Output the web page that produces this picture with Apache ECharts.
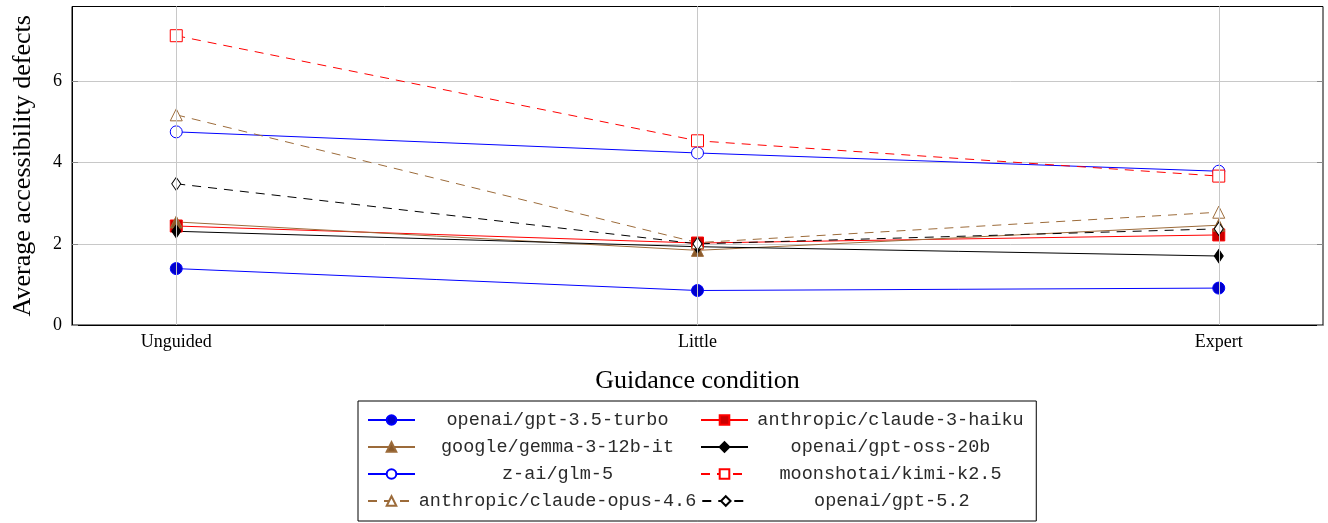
<!DOCTYPE html>
<html>
<head>
<meta charset="utf-8">
<script src="https://cdn.jsdelivr.net/npm/echarts@6/dist/echarts.min.js"></script>
<style>
  html, body { margin: 0; padding: 0; background: #fff; }
  #chart { width: 1328px; height: 523px; }
</style>
</head>
<body>
<div id="chart"></div>
<script>
// guidance conditions on the x axis
const conditions = ['Unguided', 'Little', 'Expert'];
const yTicks = [0, 2, 4, 6];

// average accessibility defects per model
const gpt35Turbo = [1.39, 0.85, 0.91];
const claude3Haiku = [2.44, 2.02, 2.22];
const gemma312b = [2.54, 1.84, 2.46];
const gptOss20b = [2.31, 1.93, 1.70];
const glm5 = [4.76, 4.24, 3.79];
const kimiK25 = [7.13, 4.54, 3.67];
const claudeOpus46 = [5.18, 2.03, 2.78];
const gpt52 = [3.48, 2.00, 2.37];

const serif = '"Liberation Serif", "DejaVu Serif", serif';
const mono = '"Liberation Mono", "DejaVu Sans Mono", monospace';
const condIdx = conditions.map((c, i) => i);

// name, values, line colour, mark fill, symbol, size, dashed
const models = [
  ['openai/gpt-3.5-turbo', gpt35Turbo, '#0000ff', '#0000cc', 'circle', 12, false],
  ['anthropic/claude-3-haiku', claude3Haiku, '#ff0000', '#cc0000', 'rect', 12, false],
  ['google/gemma-3-12b-it', gemma312b, '#9c6b3a', '#8a5a2b', 'triangle', 12, false],
  ['openai/gpt-oss-20b', gptOss20b, '#000000', '#000000', 'diamond', [9, 13], false],
  ['z-ai/glm-5', glm5, '#0000ff', '#ffffff', 'circle', 12, false],
  ['moonshotai/kimi-k2.5', kimiK25, '#ff0000', '#ffffff', 'rect', 12, true],
  ['anthropic/claude-opus-4.6', claudeOpus46, '#9c6b3a', '#ffffff', 'triangle', 12, true],
  ['openai/gpt-5.2', gpt52, '#000000', '#ffffff', 'diamond', [9, 13], true]
];

const series = models.map(([name, vals, line, fill, sym, size, dashed]) => ({
  name: name,
  type: 'line',
  data: vals.map((v, i) => [i, v]),
  symbol: sym,
  symbolSize: size,
  showAllSymbol: true,
  lineStyle: { color: line, width: 1, type: dashed ? [9, 7] : 'solid' },
  itemStyle: { color: fill, borderColor: line, borderWidth: 1 },
  emphasis: { disabled: true },
  animation: false
}));

// vertical grid lines at each condition
series[0].markLine = {
  silent: true,
  symbol: 'none',
  label: { show: false },
  lineStyle: { color: '#c8c8c8', width: 1, type: 'solid' },
  data: condIdx.map(i => ({ xAxis: i }))
};

const chart = echarts.init(document.getElementById('chart'));
chart.setOption({
  animation: false,
  grid: { left: 72, right: 5, top: 6.5, bottom: 198, show: true, borderColor: '#000', borderWidth: 1 },
  xAxis: [{
    type: 'value',
    min: -0.2,
    max: 2.2,
    name: 'Guidance condition',
    nameLocation: 'middle',
    nameGap: 43,
    nameTextStyle: { fontFamily: serif, fontSize: 26, color: '#000' },
    axisLine: { show: true, onZero: false, lineStyle: { color: '#000' } },
    axisTick: { show: true, inside: true, length: 6, customValues: condIdx, lineStyle: { color: '#888' } },
    axisLabel: {
      customValues: condIdx,
      margin: 8,
      fontFamily: serif, fontSize: 18, color: '#000',
      formatter: v => conditions[Math.round(v)] || ''
    },
    splitLine: { show: false }
  }, {
    type: 'value', position: 'top', min: -0.2, max: 2.2,
    axisLine: { show: false, onZero: false },
    axisTick: { show: true, inside: true, length: 6, customValues: condIdx, lineStyle: { color: '#888' } },
    axisLabel: { show: false },
    splitLine: { show: false }
  }],
  yAxis: [{
    type: 'value',
    min: 0,
    max: 7.85,
    interval: 2,
    name: 'Average accessibility defects',
    nameLocation: 'middle',
    nameGap: 36,
    nameTextStyle: { fontFamily: serif, fontSize: 26, color: '#000' },
    axisLine: { show: true, onZero: false, lineStyle: { color: '#000' } },
    axisTick: { show: true, inside: true, length: 6, customValues: yTicks, lineStyle: { color: '#888' } },
    axisLabel: { customValues: yTicks, margin: 10, fontFamily: serif, fontSize: 18, color: '#000' },
    splitLine: { show: true, lineStyle: { color: '#c8c8c8', width: 1 } }
  }, {
    type: 'value', position: 'right', min: 0, max: 7.85, interval: 2,
    axisLine: { show: false, onZero: false },
    axisTick: { show: true, inside: true, length: 6, customValues: yTicks, lineStyle: { color: '#888' } },
    axisLabel: { show: false },
    splitLine: { show: false }
  }],
  legend: {
    left: 358,
    top: 401,
    width: 700,
    orient: 'horizontal',
    padding: [8, 7, 9, 9],
    itemGap: 5,
    itemWidth: 47,
    itemHeight: 12,
    backgroundColor: '#fff',
    borderColor: '#000',
    borderWidth: 1,
    borderRadius: 0,
    selectedMode: false,
    formatter: name => '{t|' + name + '}',
    textStyle: {
      lineHeight: 22,
      rich: {
        t: { width: 275, height: 22, align: 'center', fontFamily: mono, fontSize: 18.5, lineHeight: 22, color: '#2a2a2a' }
      }
    },
    data: models.map(m => m[0])
  },
  series: series
});
</script>
</body>
</html>
